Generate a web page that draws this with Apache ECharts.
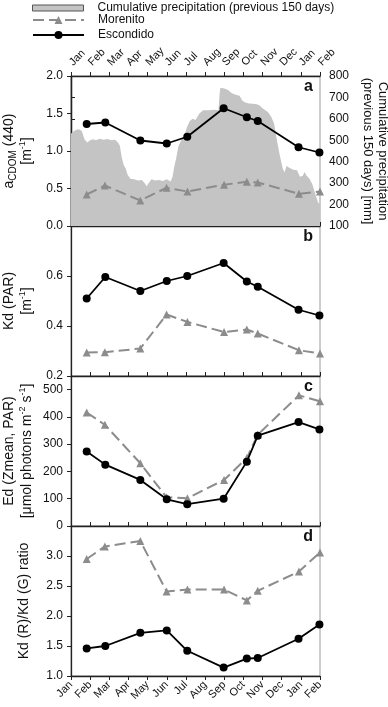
<!DOCTYPE html>
<html><head><meta charset="utf-8">
<script src="https://cdn.jsdelivr.net/npm/echarts@6/dist/echarts.min.js"></script>
<style>html,body{margin:0;padding:0;background:#fff}#c{width:388px;height:707px}</style>
</head><body><div id="c"></div>
<script>
// ---- data ----
const monthLabels = ['Jan','Feb','Mar','Apr','May','Jun','Jul','Aug','Sep','Oct','Nov','Dec','Jan','Feb'];

// cumulative precipitation (previous 150 days), x in months since Jan 1
const precipMonth = [0, 0.1, 0.25, 0.4, 0.55, 0.62, 0.7, 0.85, 1.0, 1.15, 1.3, 1.5, 1.7, 1.9, 2.1, 2.3, 2.45, 2.55, 2.65, 2.75, 2.85, 2.95, 3.1, 3.3, 3.5, 3.7, 3.85, 3.95, 4.05, 4.2, 4.4, 4.6, 4.8, 5.0, 5.2, 5.3, 5.4, 5.5, 5.6, 5.75, 5.9, 6.05, 6.2, 6.35, 6.5, 6.7, 6.9, 7.2, 7.5, 7.7, 7.76, 7.8, 8.0, 8.2, 8.4, 8.6, 8.8, 8.95, 9.1, 9.3, 9.5, 9.7, 9.85, 10.0, 10.15, 10.3, 10.45, 10.6, 10.75, 10.9, 11.05, 11.15, 11.25, 11.4, 11.6, 11.8, 11.95, 12.1, 12.2, 12.3, 12.45, 12.6, 12.75, 12.9, 13.0];
const precipMM = [530, 540, 548, 552, 545, 528, 505, 490, 500, 505, 500, 507, 503, 506, 500, 503, 490, 475, 420, 385, 370, 340, 320, 318, 312, 315, 300, 285, 300, 318, 312, 315, 310, 318, 308, 330, 380, 420, 470, 500, 515, 560, 590, 600, 595, 625, 640, 640, 642, 640, 720, 745, 742, 735, 720, 712, 708, 685, 676, 672, 670, 668, 662, 650, 640, 630, 610, 580, 500, 430, 370, 350, 380, 372, 362, 360, 330, 335, 352, 335, 320, 295, 250, 210, 200];

// sampling dates (months since Jan 1)
const escX = [0.82, 1.79, 3.62, 5.0, 6.07, 7.97, 9.18, 9.75, 11.88, 12.97];
const morX = [0.82, 1.77, 3.62, 4.99, 6.08, 7.99, 9.18, 9.75, 11.9, 13.0];

// a: aCDOM(440) [m-1]
const escCDOM = [1.36, 1.38, 1.14, 1.10, 1.19, 1.57, 1.45, 1.40, 1.05, 0.98];
const morCDOM = [0.42, 0.54, 0.34, 0.51, 0.46, 0.55, 0.59, 0.58, 0.43, 0.46];
// b: Kd(PAR) [m-1]
const escKd = [0.51, 0.596, 0.54, 0.58, 0.60, 0.652, 0.578, 0.557, 0.465, 0.442];
const morKd = [0.294, 0.295, 0.31, 0.446, 0.416, 0.376, 0.386, 0.37, 0.303, 0.29];
// c: Ed (Zmean, PAR)
const escEd = [273, 225, 169, 98, 80, 100, 236, 331, 381, 354];
const morEd = [416, 371, 230, 105, 102, 169, 249, 335, 479, 457];
// d: Kd(R)/Kd(G) ratio
const escRatio = [1.46, 1.50, 1.72, 1.76, 1.42, 1.14, 1.29, 1.30, 1.62, 1.86];
const morRatio = [2.95, 3.16, 3.25, 2.41, 2.44, 2.44, 2.26, 2.42, 2.74, 3.06];

// ---- chart ----
const FONT = '"Liberation Sans", Arial, sans-serif';
const INK = '#111';
const GRAY = '#8c8c8c';
const zip = (xs, ys) => xs.map((x, i) => [x, ys[i]]);
const chart = echarts.init(document.getElementById('c'), null, {renderer: 'canvas'});

const tops = [76, 226, 376, 526];
const grids = tops.map(t => ({left: 71, right: 68, top: t, height: 150, show: true,
  containLabel: false, outerBoundsMode: 'none',
  borderColor: '#9a9a9a', borderWidth: 1, backgroundColor: 'transparent'}));

const xAxes = tops.map((t, i) => ({
  gridIndex: i, type: 'value', min: 0, max: 13, interval: 1, position: 'bottom',
  axisLine: {show: true, onZero: false, lineStyle: {color: '#222', width: 1.3}},
  axisTick: {show: true, inside: i < 3, length: 4, lineStyle: {color: '#222', width: 1}},
  axisLabel: {show: i === 3, rotate: 45, margin: 7, fontSize: 11, color: INK, fontFamily: FONT,
    formatter: v => monthLabels[Math.round(v)] || ''},
  splitLine: {show: false}
}));
xAxes.push({
  gridIndex: 0, type: 'value', min: 0, max: 13, interval: 1, position: 'top',
  axisLine: {show: true, onZero: false, lineStyle: {color: '#222', width: 1.3}},
  axisTick: {show: true, inside: false, length: 4, lineStyle: {color: '#222', width: 1}},
  axisLabel: {show: true, rotate: -45, margin: 12, fontSize: 11, color: INK, fontFamily: FONT,
    align: 'left', verticalAlign: 'middle',
    formatter: v => monthLabels[Math.round(v)] || ''},
  splitLine: {show: false}
});

const rich = {
  t: {fontSize: 14, fontFamily: FONT, color: INK, lineHeight: 18},
  s: {fontSize: 10, fontFamily: FONT, color: INK, lineHeight: 10, verticalAlign: 'bottom'},
  p: {fontSize: 9, fontFamily: FONT, color: INK, lineHeight: 10, verticalAlign: 'top'}
};
const leftCfg = [
  {min: 0, max: 2, interval: 0.5, fmt: v => v.toFixed(1), gap: 35,
   name: '{t|a}{s|CDOM}{t| (440)}\n{t|[m}{p|-1}{t|]}'},
  {min: 0.2, max: 0.8, interval: 0.2, fmt: v => v > 0.75 ? '' : v.toFixed(1), gap: 35,
   name: '{t|Kd (PAR)}\n{t|[m}{p|-1}{t|]}'},
  {min: 0, max: 550, interval: 100, fmt: v => v > 505 ? '' : String(Math.round(v)), gap: 35,
   name: '{t|Ed (Zmean, PAR)}\n{t|[μmol photons m}{p|-2}{t| s}{p|-1}{t|]}'},
  {min: 1, max: 3.5, interval: 0.5, fmt: v => v > 3.25 ? '' : v.toFixed(1), gap: 38,
   name: '{t|Kd (R)/Kd (G) ratio}'}
];
const yAxes = leftCfg.map((c, i) => ({
  gridIndex: i, type: 'value', position: 'left', min: c.min, max: c.max, interval: c.interval,
  name: c.name, nameLocation: 'middle', nameRotate: 90, nameGap: c.gap, nameMoveOverlap: false,
  nameTextStyle: {rich: rich, align: 'center'},
  axisLine: {show: true, lineStyle: {color: '#222', width: 1.3}},
  axisTick: {show: true, inside: false, length: 4, lineStyle: {color: '#222'}},
  axisLabel: {margin: 8, fontSize: 12, color: INK, fontFamily: FONT, formatter: c.fmt},
  splitLine: {show: false}
}));
yAxes.push({
  gridIndex: 0, type: 'value', position: 'right', min: 100, max: 800, interval: 100,
  name: 'Cumulative precipitation\n(previous 150 days) [mm]', nameLocation: 'middle',
  nameRotate: -90, nameGap: 40, nameMoveOverlap: false,
  nameTextStyle: {fontSize: 13, fontFamily: FONT, color: INK, lineHeight: 15},
  axisLine: {show: true, lineStyle: {color: '#222', width: 1.3}},
  axisTick: {show: true, inside: false, length: 4, lineStyle: {color: '#222'}},
  axisLabel: {margin: 9, fontSize: 12, color: INK, fontFamily: FONT},
  splitLine: {show: false}
});

const escVals = [escCDOM, escKd, escEd, escRatio];
const morVals = [morCDOM, morKd, morEd, morRatio];
const PRECIP = 'Cumulative precipitation (previous 150 days)';
const series = [{
  name: PRECIP, type: 'line', xAxisIndex: 0, yAxisIndex: 4,
  data: zip(precipMonth, precipMM), symbol: 'none', showSymbol: false,
  lineStyle: {width: 0, color: '#c4c4c4'}, itemStyle: {color: '#c4c4c4'},
  areaStyle: {color: '#c4c4c4', opacity: 1}, z: 1
}];
for (let i = 0; i < 4; i++) {
  series.push({
    name: 'Morenito', type: 'line', xAxisIndex: i, yAxisIndex: i,
    data: zip(morX, morVals[i]), symbol: 'triangle', symbolSize: 8,
    lineStyle: {color: GRAY, width: 2, type: [11, 5]}, itemStyle: {color: GRAY}, z: 3
  });
  series.push({
    name: 'Escondido', type: 'line', xAxisIndex: i, yAxisIndex: i,
    data: zip(escX, escVals[i]), symbol: 'circle', symbolSize: 8,
    lineStyle: {color: '#000', width: 1.8}, itemStyle: {color: '#000'}, z: 4
  });
}

const legendText = {fontSize: 12, fontFamily: FONT, color: INK, padding: [0, 0, 0, 9]};
const legends = [
  {data: [{name: PRECIP, icon: 'rect', itemStyle: {color: '#c4c4c4', borderColor: '#555', borderWidth: 1}}],
   left: 32, top: 2, itemWidth: 51, itemHeight: 6, padding: 0, selectedMode: false, textStyle: legendText},
  {data: ['Morenito'], left: 32, top: 14, itemWidth: 51, itemHeight: 10, padding: 0,
   selectedMode: false, textStyle: legendText},
  {data: ['Escondido'], left: 32, top: 29, itemWidth: 51, itemHeight: 10, padding: 0,
   selectedMode: false, textStyle: legendText}
];

const panelLetters = ['a', 'b', 'c', 'd'];
const graphic = panelLetters.map((L, i) => ({
  type: 'text', x: 313, y: tops[i] + 10.5, z: 10,
  style: {text: L, font: 'bold 16px ' + FONT, fill: INK, align: 'right', verticalAlign: 'middle'}
}));

chart.setOption({
  animation: false,
  backgroundColor: '#fff',
  grid: grids, xAxis: xAxes, yAxis: yAxes, series: series, legend: legends, graphic: graphic
});
</script></body></html>
